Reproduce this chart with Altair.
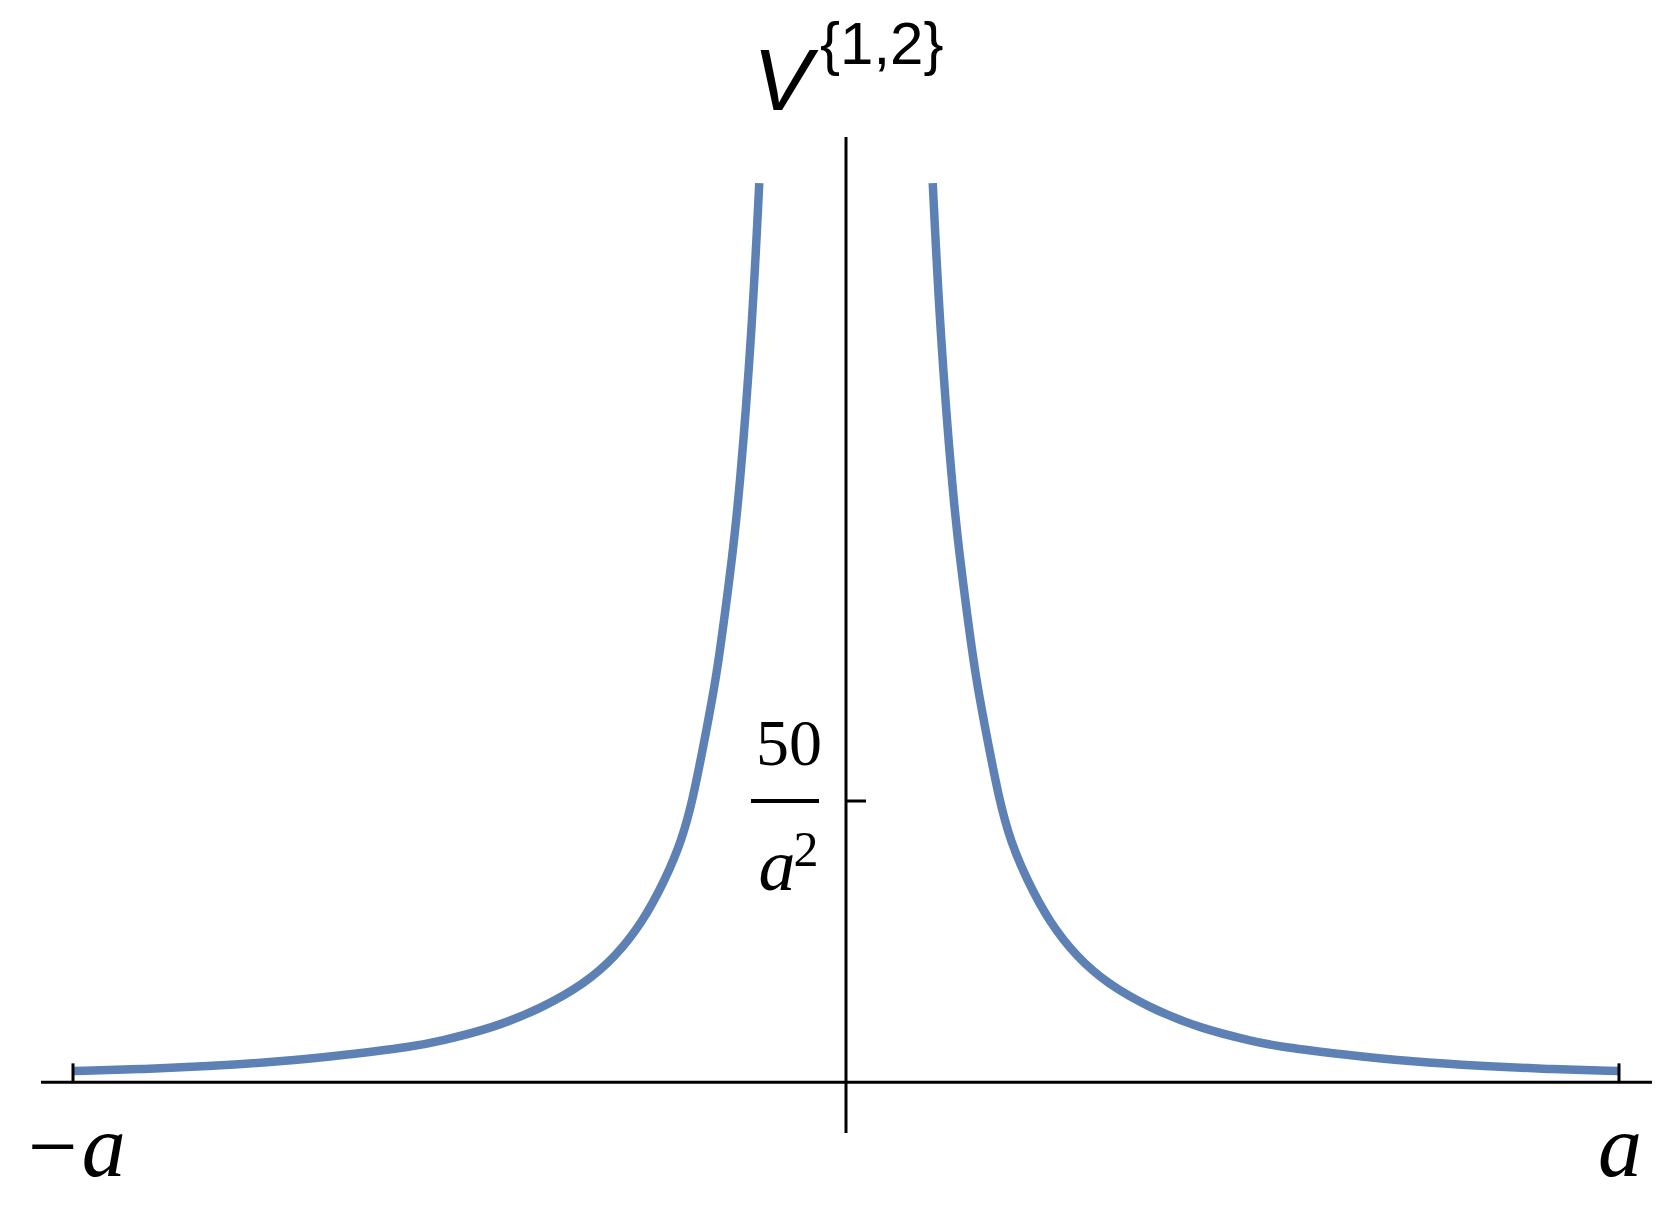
import altair as alt
import pandas as pd

# Curve values (x in units of a, V in units of 1/a^2)
right_x = [0.1122, 0.1216, 0.1375, 0.1475, 0.1565, 0.1682, 0.1846, 0.1983, 0.2122,
           0.2338, 0.2639, 0.2985, 0.3373, 0.3933, 0.4580, 0.5265, 0.5615, 0.6478,
           0.7335, 0.8202, 0.9065, 1.0]
right_v = [159.8, 133.7, 105.3, 93.0, 83.4, 71.5, 59.7, 50.2, 43.1,
           36.0, 28.3, 22.3, 17.6, 13.2, 9.6, 7.3, 6.3, 4.85,
           3.66, 2.9, 2.36, 2.0]
left_x = [-1.0, -0.9065, -0.8202, -0.7335, -0.6478, -0.5615, -0.5265, -0.4580, -0.3933,
          -0.3373, -0.2985, -0.2639, -0.2338, -0.2122, -0.1983, -0.1846, -0.1682,
          -0.1565, -0.1475, -0.1375, -0.1216, -0.1122]
left_v = [2.0, 2.36, 2.9, 3.66, 4.85, 6.3, 7.3, 9.6, 13.2,
          17.6, 22.3, 28.3, 36.0, 43.1, 50.2, 59.7, 71.5,
          83.4, 93.0, 105.3, 133.7, 159.8]

x_ticks = [-1, 1]
x_tick_labels = ["\u2212a", "a"]
y_ticks = [50]
x_domain = [-1.0414, 1.0427]
y_domain = [-9.0, 168.0]

curve = pd.DataFrame({
    "x": left_x + right_x,
    "v": left_v + right_v,
    "branch": ["left"] * len(left_x) + ["right"] * len(right_x),
})

xs = alt.Scale(domain=x_domain, nice=False, zero=False)
ys = alt.Scale(domain=y_domain, nice=False, zero=False)


def X(f):
    return alt.X(f, scale=xs, axis=None)


def Y(f):
    return alt.Y(f, scale=ys, axis=None)


lines = alt.Chart(curve).mark_line(
    color="#5E81B5", strokeWidth=8.5, interpolate="basis"
).encode(x=X("x:Q"), y=Y("v:Q"), detail="branch:N", order="x:Q")

xaxis_df = pd.DataFrame({"x": [x_domain[0]], "x2": [x_domain[1]], "y": [0]})
xaxis = alt.Chart(xaxis_df).mark_rule(color="black", strokeWidth=3).encode(
    x=X("x:Q"), x2="x2:Q", y=Y("y:Q"))

yaxis_df = pd.DataFrame({"x": [0], "y": [y_domain[0]], "y2": [y_domain[1]]})
yaxis = alt.Chart(yaxis_df).mark_rule(color="black", strokeWidth=3).encode(
    x=X("x:Q"), y=Y("y:Q"), y2="y2:Q")

xt_df = pd.DataFrame({"x": x_ticks, "y": [0] * len(x_ticks), "label": x_tick_labels})
xticks = alt.Chart(xt_df).mark_rule(color="black", strokeWidth=3, y2Offset=-19).encode(
    x=X("x:Q"), y=Y("y:Q"), y2="y:Q")
xlabels = alt.Chart(xt_df).mark_text(
    font="Liberation Serif", fontStyle="italic", fontSize=88, align="center",
    baseline="alphabetic", dy=94, dx=1, color="black"
).encode(x=X("x:Q"), y=Y("y:Q"), text="label:N")

yt_df = pd.DataFrame({"x": [0] * len(y_ticks), "y": y_ticks})
yticks = alt.Chart(yt_df).mark_rule(color="black", strokeWidth=3, x2Offset=20).encode(
    x=X("x:Q"), x2="x:Q", y=Y("y:Q"))
frac_bar = alt.Chart(yt_df).mark_rule(
    color="black", strokeWidth=4, xOffset=-95, x2Offset=-27
).encode(x=X("x:Q"), x2="x:Q", y=Y("y:Q"))
num = alt.Chart(yt_df).mark_text(
    font="Liberation Serif", fontSize=66, align="center", baseline="alphabetic",
    dx=-57, dy=-36, color="black"
).encode(x=X("x:Q"), y=Y("y:Q"), text=alt.value("50"))
den_a = alt.Chart(yt_df).mark_text(
    font="Liberation Serif", fontStyle="italic", fontSize=74, align="center",
    baseline="alphabetic", dx=-69, dy=89, color="black"
).encode(x=X("x:Q"), y=Y("y:Q"), text=alt.value("a"))
den_2 = alt.Chart(yt_df).mark_text(
    font="Liberation Serif", fontSize=50, align="center", baseline="alphabetic",
    dx=-40, dy=65, color="black"
).encode(x=X("x:Q"), y=Y("y:Q"), text=alt.value("2"))

title_df = pd.DataFrame({"x": [0], "y": [y_domain[1]]})
title_v = alt.Chart(title_df).mark_text(
    font="Liberation Sans", fontStyle="italic", fontSize=88, align="left",
    baseline="alphabetic", dx=-93, dy=-27, color="black"
).encode(x=X("x:Q"), y=Y("y:Q"), text=alt.value("V"))
title_sup = alt.Chart(title_df).mark_text(
    font="Liberation Sans", fontSize=60, align="left",
    baseline="alphabetic", dx=-26, dy=-73, color="black"
).encode(x=X("x:Q"), y=Y("y:Q"), text=alt.value("{1,2}"))

chart = alt.layer(
    lines, xaxis, yaxis, xticks, yticks, xlabels, frac_bar, num, den_a, den_2,
    title_v, title_sup
).properties(
    width=1611, height=996,
    padding={"left": 33, "top": 129, "right": 19, "bottom": 64},
    autosize=alt.AutoSizeParams(type="none"),
    background="white",
).configure_view(stroke="transparent", strokeWidth=0)

chart.save("out.html", embed_options={"renderer": "svg", "actions": False})
